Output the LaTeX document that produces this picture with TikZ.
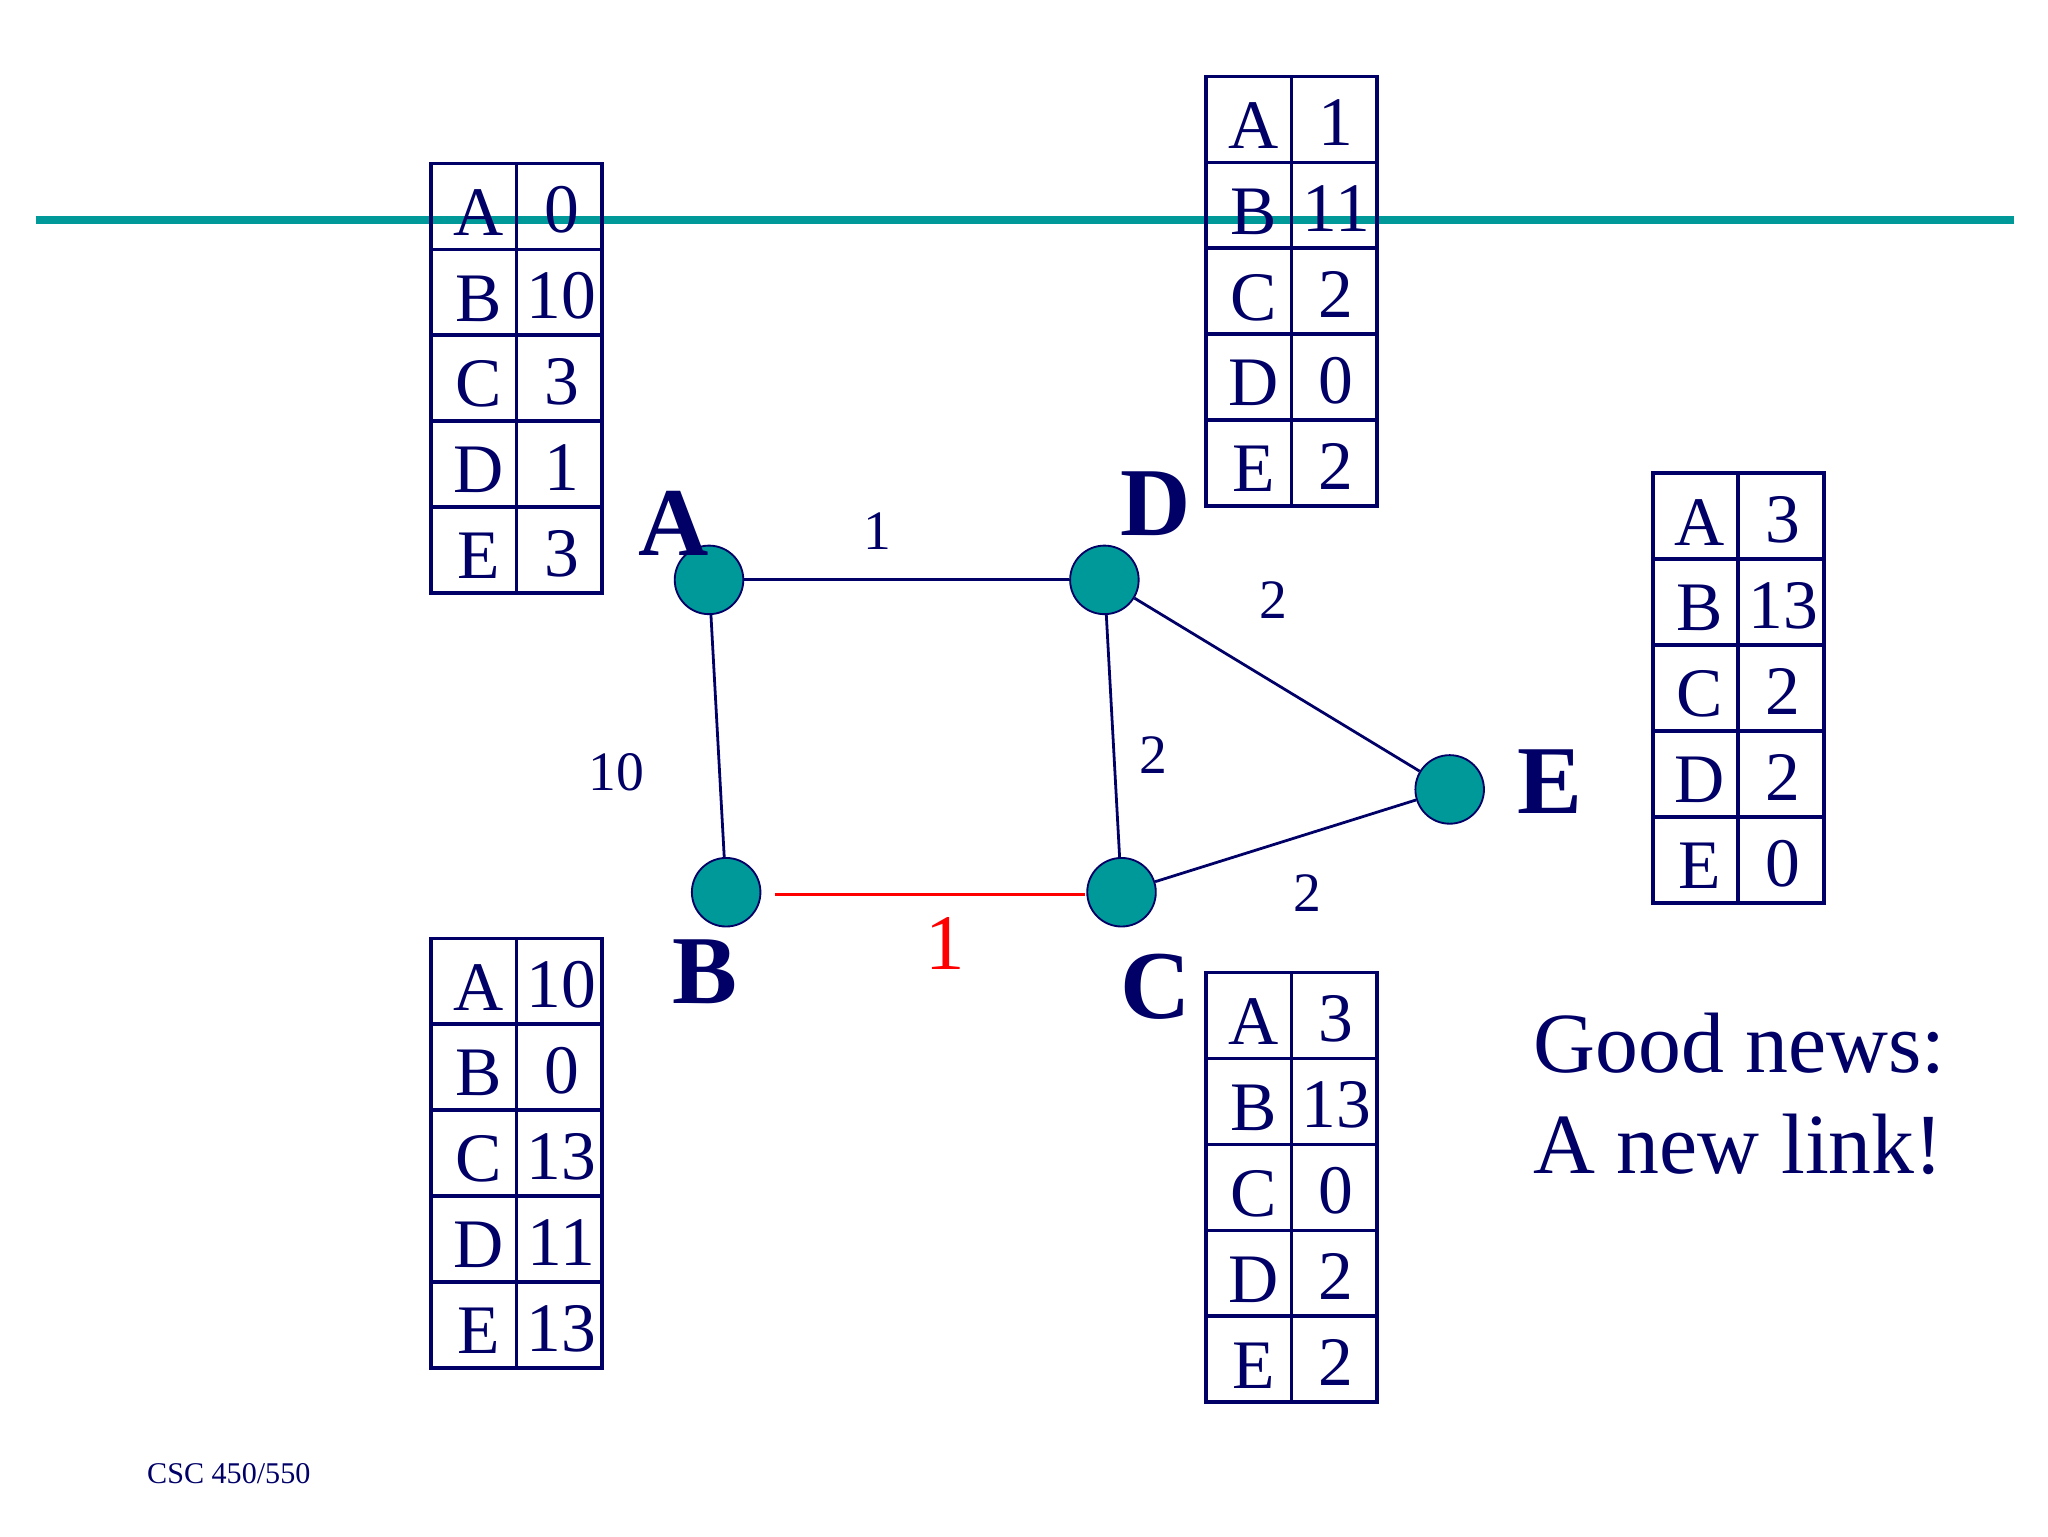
\documentclass[tikz,border=0pt]{standalone}
\usepackage{fontspec}
\setmainfont{Liberation Serif}
\definecolor{tealc}{RGB}{0,153,153}
\definecolor{navyc}{RGB}{0,0,102}
\begin{document}
\begin{tikzpicture}[x=0.01cm,y=-0.01cm,
  rt/.style={draw=navyc,line width=0.8pt},
  cell/.style={text=navyc,font=\fontsize{15}{15}\selectfont,inner sep=0},
  router/.style={circle,fill=tealc,draw=navyc,minimum size=0.52cm,inner sep=0},
  nlab/.style={text=navyc,font=\bfseries\fontsize{21}{21}\selectfont},
  elab/.style={text=navyc,font=\fontsize{12}{12}\selectfont},
  edge/.style={draw=navyc,line width=0.6pt}]
\useasboundingbox (0,0) rectangle (1554,1166);
\draw[color=tealc,line width=1.8pt] (27,167) -- (1528,167);
% tables
\foreach \tn/\x/\y/\vals in {ta/327/124/{0,10,3,1,3}, td/915/58/{1,11,2,0,2}, te/1254/359/{3,13,2,2,0}, tb/327/712/{10,0,13,11,13}, tc/915/738/{3,13,0,2,2}}{
  \draw[rt] (\x,\y) rectangle ++(130,326);
  \draw[rt] (\x+65,\y) -- ++(0,326);
  \foreach \i in {1,...,4} \draw[rt] (\x,\y+65.2*\i) -- ++(130,0);
  \foreach \L [count=\i] in {A,B,C,D,E}
    \node[cell] (\tn-l\i) at (\x+36,\y+65.2*\i-28) {\L};
  \foreach \v [count=\i] in \vals
    \node[cell] (\tn-v\i) at (\x+99,\y+65.2*\i-30) {\v};
}
% routers
\node[router] (A) at (538,440) {};
\node[router] (D) at (838,440) {};
\node[router] (B) at (551,677) {};
\node[router] (C) at (851,677) {};
\node[router] (E) at (1100,599) {};
\draw[edge] (A) -- (D);
\draw[edge] (A) -- (B);
\draw[edge] (D) -- (C);
\draw[edge] (D) -- (E);
\draw[edge] (C) -- (E);
\coordinate (r1) at (588,679);
\coordinate (r2) at (823,679);
\draw[red,line width=0.6pt] (r1) -- (r2);
\node[nlab] (lA) at (511,397) {A};
\node[nlab] (lD) at (877,382) {D};
\node[nlab] (lB) at (535,737) {B};
\node[nlab] (lC) at (877,749) {C};
\node[nlab] (lE) at (1176,593) {E};
\node[elab] (w1) at (666,403) {1};
\node[elab] (w2) at (966,455) {2};
\node[elab] (w3) at (468,586) {10};
\node[elab] (w4) at (875,573) {2};
\node[elab] (w5) at (992,678) {2};
\node[text=red,font=\fontsize{17}{17}\selectfont] (w6) at (717,716) {1};
\node[text=navyc,font=\fontsize{18.5}{22}\selectfont,align=left,anchor=west,inner sep=0] (gn) at (1163,830) {Good news:\\A new link!};
\node[text=navyc,font=\fontsize{6.5}{7}\selectfont,anchor=west,inner sep=0] (csc) at (111,1118) {CSC 450/550};
\end{tikzpicture}
\end{document}
